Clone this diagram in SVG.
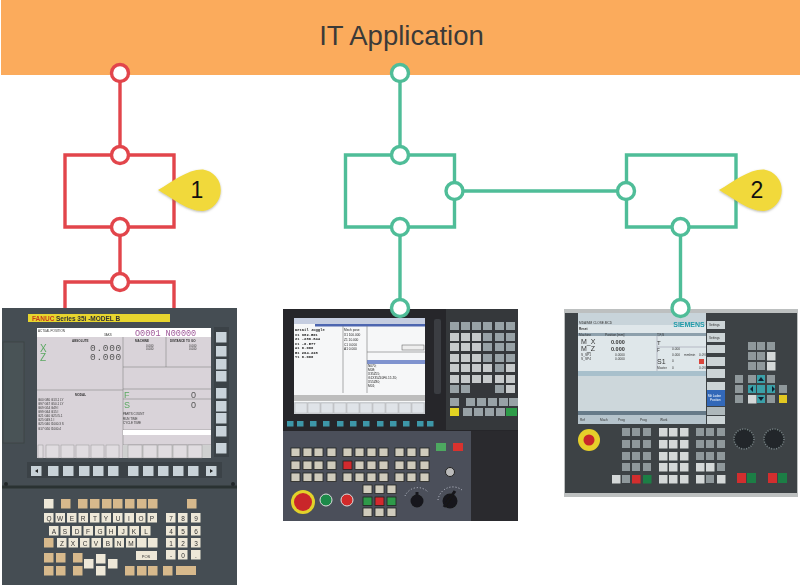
<svg xmlns="http://www.w3.org/2000/svg" width="800" height="586" viewBox="0 0 800 586">
<defs>
<style>
text{font-family:"Liberation Sans",Arial,sans-serif}
text.mono{font-family:"Liberation Mono","Courier New",monospace}
.r{fill:none;stroke:#e2454b;stroke-width:3.4}
.g{fill:none;stroke:#4fbd98;stroke-width:3.4}
.cr{fill:#fff;stroke:#e2454b;stroke-width:3.4}
.cg{fill:#fff;stroke:#4fbd98;stroke-width:3.4}
.tag{font-size:23px;fill:#111;text-anchor:middle}
.sk{fill:#c9d3da;width:10.5px;height:10.5px}
.fk{fill:#c8d2d8;width:10.5px;height:10px}
.k{fill:#eee8d8;width:9.5px;height:9.5px}
.t{fill:#d7b98c;width:9.5px;height:9.5px}
.lt{font-size:6.5px;fill:#333;text-anchor:middle}
.px{font-size:3px;fill:#333}
.m{fill:#c6cacb;width:9px;height:8px}
.d{fill:#98a2a6;width:9px;height:8px}
.ck{fill:#cfcbbc;stroke:#222;stroke-width:.8;width:9px;height:8.5px}
.tl{fill:#3c97a8;width:6.5px;height:5.5px}
.s{fill:#d4d8d8;width:8.5px;height:8.5px}
.sd{fill:#8f989b;width:8px;height:8px}
.sb{fill:#ccd4d6;width:18px;height:8px}
.teal{fill:#3aa0a8}
.gl{fill:#333;width:4px;height:4px}
</style>
<filter id="soft" x="0" y="0" width="100%" height="100%"><feGaussianBlur stdDeviation="0.4"/></filter>
<filter id="sh" x="-10%" y="-10%" width="120%" height="130%"><feDropShadow dx="0" dy="1" stdDeviation="0.8" flood-color="#776" flood-opacity=".5"/></filter>
</defs>
<rect width="800" height="586" fill="#fff"/>
<g id="it-application">
<rect x="1" y="0" width="799" height="75" fill="#fbab5c"/>
<text x="401.500" y="45" font-size="27.500" fill="#3b3a38" text-anchor="middle">IT Application</text>
</g>

<g id="fanuc-panel" filter="url(#soft)">
<rect x="2" y="308" width="235" height="277" fill="#454e52"/>
<rect x="2" y="485.500" width="235" height="3" fill="#2a3033"/>
<circle cx="6" cy="484" r="2" fill="#23282a"/><circle cx="233" cy="484" r="2" fill="#23282a"/>
<rect x="3" y="342" width="21" height="101" fill="#4a5357" stroke="#363d40" stroke-width=".6"/>
<rect x="28" y="314" width="142" height="8" fill="#e7d52e"/>
<text x="32" y="321" font-size="6.500" font-weight="bold" fill="#c8401e">FANUC</text>
<text x="56" y="321" font-size="6.500" font-weight="bold" fill="#333">Series 35i -MODEL B</text>
<rect x="37" y="328" width="174" height="130" fill="#d9d3d9"/>
<rect x="37" y="328" width="174" height="9" fill="#fff"/>
<g fill="none" stroke="#777" stroke-width=".5">
<path d="M37 390H123M123 337V458M123 367H211M166 337V367M123 389H211M123 399H211M123 430H211M123 445H211"/>
</g>
<text x="38" y="331.500" class="px">ACTUAL POSITION</text>
<text x="104" y="336" class="px">3AKS</text>
<text x="135" y="336" font-size="8.500" fill="#a05a9a" class="mono">O0001 N00000</text>
<text x="72" y="342" class="px" font-weight="bold">ABSOLUTE</text>
<text x="40" y="352" font-size="10" fill="#5aa860">X</text>
<text x="40" y="361" font-size="10" fill="#5aa860">Z</text>
<text x="122" y="351" font-size="9.500" fill="#555" text-anchor="end" class="mono" letter-spacing=".7">0.000</text>
<text x="122" y="360" font-size="9.500" fill="#555" text-anchor="end" class="mono" letter-spacing=".7">0.000</text>
<text x="135" y="342" class="px" font-weight="bold">MACHINE</text>
<text x="170" y="342" class="px" font-weight="bold">DISTANCE TO GO</text>
<text x="146" y="346.500" class="px">0.000</text><text x="146" y="350" class="px">0.000</text><text x="189" y="346.500" class="px">0.000</text><text x="189" y="350" class="px">0.000</text>
<text x="75" y="396" class="px" font-weight="bold">MODAL</text>
<text x="38" y="401" class="px">G00  G80  G13.1 LY</text>
<text x="38" y="405" class="px">G97  G67  G50.1 LY</text>
<text x="38" y="409" class="px">G69  G54  G49  I</text>
<text x="38" y="413" class="px">G99  G64  G15  I</text>
<text x="38" y="417" class="px">G21  G40  G25 I5.1</text>
<text x="38" y="421" class="px">G25  G49.1  I</text>
<text x="38" y="425" class="px">G25  G40  I1000.3 S</text>
<text x="38" y="430" class="px">G17  G50  I1000.4</text>
<text x="124" y="398" font-size="9" fill="#5aa860">F</text>
<text x="124" y="408" font-size="9" fill="#5aa860">S</text>
<text x="191" y="398" font-size="9" fill="#555">0</text>
<text x="191" y="408" font-size="9" fill="#555">0</text>
<text x="123" y="415" class="px">PARTS COUNT</text>
<text x="123" y="420" class="px">RUN TIME</text>
<text x="123" y="424" class="px">CYCLE TIME</text>
<rect x="123" y="430" width="88" height="5" fill="#fff"/>
<rect x="123" y="445" width="88" height="13" fill="#cfd0d0"/>
<g fill="#e0dce0" stroke="#888" stroke-width=".4">
<rect x="38" y="445" width="5" height="13"/><rect x="46" y="445" width="13" height="13"/><rect x="61" y="445" width="13" height="13"/><rect x="76" y="445" width="13" height="13"/><rect x="91" y="445" width="13" height="13"/><rect x="106" y="445" width="13" height="13"/>
<rect x="128" y="445" width="14" height="13"/><rect x="143" y="445" width="14" height="13"/><rect x="158" y="445" width="14" height="13"/><rect x="173" y="445" width="14" height="13"/><rect x="188" y="445" width="14" height="13"/>
</g>
<rect x="214" y="327" width="15" height="130" fill="#3a4246"/>
<rect x="216" y="332" class="sk"/><rect x="216" y="346" class="sk"/><rect x="216" y="359" class="sk"/><rect x="216" y="371" class="sk"/><rect x="216" y="388" class="sk"/><rect x="216" y="401" class="sk"/><rect x="216" y="413" class="sk"/><rect x="216" y="426" class="sk"/><rect x="216" y="443" class="sk"/>
<rect x="27" y="462" width="195" height="16" fill="#3a4246"/>
<rect x="31" y="466" class="fk"/><rect x="48" y="466" class="fk"/><rect x="63" y="466" class="fk"/><rect x="79" y="466" class="fk"/><rect x="93" y="466" class="fk"/><rect x="108" y="466" class="fk"/><rect x="128" y="466" class="fk"/><rect x="143" y="466" class="fk"/><rect x="158" y="466" class="fk"/><rect x="173" y="466" class="fk"/><rect x="188" y="466" class="fk"/><rect x="206" y="466" class="fk"/>
<path d="M38 469v4l-3-2zM210 469v4l3-2z" fill="#222"/>
<rect x="44" y="499" class="k"/><rect x="61" y="499" class="t"/><rect x="78" y="499" class="t"/><rect x="90" y="499" class="t"/><rect x="102" y="499" class="t"/><rect x="113" y="499" class="t"/><rect x="125" y="499" class="t"/><rect x="137" y="499" class="t"/><rect x="148" y="499" class="t"/><rect x="187" y="499" class="t"/>
<rect x="44" y="513" class="k"/><rect x="55.500" y="513" class="k"/><rect x="67" y="513" class="k"/><rect x="78.500" y="513" class="k"/><rect x="90" y="513" class="k"/><rect x="101.500" y="513" class="k"/><rect x="113" y="513" class="k"/><rect x="124.500" y="513" class="k"/><rect x="136" y="513" class="k"/><rect x="147.500" y="513" class="k"/>
<rect x="166" y="513" class="k"/><rect x="178" y="513" class="k"/><rect x="191" y="513" class="k"/>
<rect x="49" y="526" class="k"/><rect x="60.500" y="526" class="k"/><rect x="72" y="526" class="k"/><rect x="83.500" y="526" class="k"/><rect x="95" y="526" class="k"/><rect x="106.500" y="526" class="k"/><rect x="118" y="526" class="k"/><rect x="129.500" y="526" class="k"/><rect x="141" y="526" class="k"/>
<rect x="166" y="526" class="k"/><rect x="178" y="526" class="k"/><rect x="191" y="526" class="k"/>
<rect x="44" y="538" class="t"/><rect x="57" y="538" class="k"/><rect x="68.500" y="538" class="k"/><rect x="80" y="538" class="k"/><rect x="91.500" y="538" class="k"/><rect x="103" y="538" class="k"/><rect x="114.500" y="538" class="k"/><rect x="126" y="538" class="k"/><rect x="137" y="538" class="k"/><rect x="148" y="538" class="k"/>
<rect x="166" y="538" class="k"/><rect x="178" y="538" class="k"/><rect x="191" y="538" class="k"/>
<rect x="44" y="553" class="t"/><rect x="56" y="553" class="t"/><rect x="73" y="553" class="t"/><rect x="84" y="559" class="k"/><rect x="96" y="554" class="k"/><rect x="108" y="559" class="k"/>
<rect x="136" y="551" width="21" height="9" fill="#eee8d8"/>
<rect x="166" y="550" class="k"/><rect x="178" y="550" class="k"/><rect x="191" y="550" class="k"/>
<rect x="44" y="566" class="t"/><rect x="56" y="566" class="t"/><rect x="73" y="566" class="t"/><rect x="96" y="566" class="k"/><rect x="125" y="566" class="t"/><rect x="137" y="566" class="t"/><rect x="148" y="566" class="t"/><rect x="163" y="566" class="t"/>
<rect x="176" y="566" width="20" height="9" fill="#d7b98c"/>
<text x="49" y="521" class="lt">Q</text><text x="60" y="521" class="lt">W</text><text x="72" y="521" class="lt">E</text><text x="83" y="521" class="lt">R</text><text x="95" y="521" class="lt">T</text><text x="106" y="521" class="lt">Y</text><text x="118" y="521" class="lt">U</text><text x="129" y="521" class="lt">I</text><text x="141" y="521" class="lt">O</text><text x="152" y="521" class="lt">P</text>
<text x="171" y="521" class="lt">7</text><text x="183" y="521" class="lt">8</text><text x="196" y="521" class="lt">9</text>
<text x="54" y="534" class="lt">A</text><text x="65" y="534" class="lt">S</text><text x="77" y="534" class="lt">D</text><text x="88" y="534" class="lt">F</text><text x="100" y="534" class="lt">G</text><text x="111" y="534" class="lt">H</text><text x="123" y="534" class="lt">J</text><text x="134" y="534" class="lt">K</text><text x="146" y="534" class="lt">L</text>
<text x="171" y="534" class="lt">4</text><text x="183" y="534" class="lt">5</text><text x="196" y="534" class="lt">6</text>
<text x="62" y="546" class="lt">Z</text><text x="73" y="546" class="lt">X</text><text x="85" y="546" class="lt">C</text><text x="96" y="546" class="lt">V</text><text x="108" y="546" class="lt">B</text><text x="119" y="546" class="lt">N</text><text x="131" y="546" class="lt">M</text>
<text x="171" y="546" class="lt">1</text><text x="183" y="546" class="lt">2</text><text x="196" y="546" class="lt">3</text>
<text x="171" y="558" class="lt">-</text><text x="183" y="558" class="lt">0</text><text x="196" y="558" class="lt">.</text>
<text x="146" y="558" class="lt" style="font-size:4px">POS</text>
</g>

<g id="mitsubishi-panel" filter="url(#soft)">
<rect x="283" y="309" width="235" height="212" fill="#26282c"/>
<rect x="446" y="309" width="72" height="121" fill="#34373b"/>
<rect x="283" y="431" width="188" height="90" fill="#4b505a"/>
<rect x="471" y="431" width="47" height="90" fill="#2a2b2f"/>
<rect x="294" y="318" width="131" height="96" fill="#f6f7f8"/>
<rect x="294" y="318" width="131" height="6" fill="#c5cde0"/>
<rect x="315" y="324" width="110" height="2.500" fill="#4e66b0"/>
<rect x="294" y="395" width="131" height="6" fill="#bdbdbd"/>
<rect x="294" y="402" width="131" height="12" fill="#cfd3d8"/>
<rect x="367" y="360" width="58" height="4" fill="#7f93cf"/>
<path d="M343 326V393M367 326V393M367 352H425" stroke="#777" stroke-width=".6" fill="none"/>
<text class="mono" x="295" y="331" font-size="3.800" font-weight="bold" fill="#222">Detail</text><text class="mono" x="311" y="331" font-size="3.800" font-weight="bold" fill="#222">Joggle</text>
<text class="mono" x="295" y="335.500" font-size="3.800" font-weight="bold" fill="#222">X1   982.501</text>
<text class="mono" x="295" y="340" font-size="3.800" font-weight="bold" fill="#222">Z1  -286.844</text>
<text class="mono" x="295" y="344.500" font-size="3.800" font-weight="bold" fill="#222">C1    -0.577</text>
<text class="mono" x="295" y="349" font-size="3.800" font-weight="bold" fill="#222">A1     0.000</text>
<text class="mono" x="295" y="353.500" font-size="3.800" font-weight="bold" fill="#222">B1   264.228</text>
<text class="mono" x="295" y="358" font-size="3.800" font-weight="bold" fill="#222">Y1     0.000</text>
<g font-size="3.200" fill="#222">
<text x="344" y="331">Mech pose</text><text x="344" y="336">X1   100.000</text><text x="344" y="341">Z1    10.000</text><text x="344" y="346">C1     0.000</text><text x="344" y="350">A1     0.000</text>
<text x="368" y="367">N070;</text><text x="368" y="371">M08;</text><text x="368" y="375">X35Z55;</text><text x="368" y="379">G1X35Z40F0.15 Z0;</text><text x="368" y="383">X55Z80;</text><text x="368" y="387">M01;</text>
</g>
<rect x="402" y="345" width="22" height="5" fill="#eee" stroke="#555" stroke-width=".5"/>
<g fill="#dfe3e8" stroke="#aaa" stroke-width=".4">
<rect x="295" y="403" width="12" height="10"/><rect x="308" y="403" width="12" height="10"/><rect x="321" y="403" width="12" height="10"/><rect x="334" y="403" width="12" height="10"/><rect x="347" y="403" width="12" height="10"/><rect x="360" y="403" width="12" height="10"/><rect x="373" y="403" width="12" height="10"/><rect x="386" y="403" width="12" height="10"/><rect x="399" y="403" width="12" height="10"/><rect x="412" y="403" width="12" height="10"/>
</g>
<rect x="434" y="319" width="7" height="75" rx="2" fill="#3a3d42"/>
<rect x="287" y="421" class="tl"/><rect x="297" y="421" class="tl"/><rect x="310" y="421" class="tl"/><rect x="323" y="421" class="tl"/><rect x="337" y="421" class="tl"/><rect x="350" y="421" class="tl"/><rect x="363" y="421" class="tl"/><rect x="377" y="421" class="tl"/><rect x="390" y="421" class="tl"/><rect x="403" y="421" class="tl"/><rect x="417" y="421" class="tl"/><rect x="427" y="421" class="tl"/>
<rect x="450" y="322" class="d"/><rect x="461" y="322" class="d"/><rect x="472" y="322" class="d"/><rect x="483" y="322" class="d"/><rect x="495" y="322" class="d"/><rect x="506" y="322" class="d"/>
<rect x="450" y="333" class="m"/><rect x="461" y="333" class="m"/><rect x="472" y="333" class="m"/><rect x="483" y="333" class="d"/><rect x="495" y="333" class="d"/><rect x="506" y="333" class="d"/>
<rect x="450" y="343" class="m"/><rect x="461" y="343" class="m"/><rect x="472" y="343" class="m"/><rect x="483" y="343" class="d"/><rect x="495" y="343" class="d"/><rect x="506" y="343" class="d"/>
<rect x="450" y="354" class="m"/><rect x="461" y="354" class="m"/><rect x="472" y="354" class="m"/><rect x="483" y="354" class="d"/><rect x="495" y="354" class="d"/><rect x="506" y="354" class="d"/>
<rect x="450" y="364" class="m"/><rect x="461" y="364" class="m"/><rect x="472" y="364" class="m"/><rect x="483" y="364" class="m"/><rect x="495" y="364" class="d"/><rect x="506" y="364" class="m"/>
<rect x="450" y="375" class="m"/><rect x="461" y="375" class="m"/><rect x="472" y="375" class="m"/><rect x="483" y="375" class="m"/><rect x="495" y="375" class="m"/><rect x="506" y="375" class="m"/>
<rect x="450" y="385" class="d"/><rect x="461" y="385" class="d"/><rect x="495" y="385" class="d"/><rect x="506" y="385" class="m"/>
<rect x="450" y="398" class="d"/><rect x="466" y="398" class="d"/><rect x="477" y="398" class="d"/><rect x="488" y="398" class="d"/><rect x="499" y="398" class="d"/><rect x="509" y="398" class="d"/>
<rect x="450" y="408" class="m" style="fill:#e2d323"/><rect x="463" y="408" class="d"/><rect x="474" y="408" class="d"/><rect x="485" y="408" class="d"/><rect x="496" y="408" class="d"/><rect x="506" y="408" class="m" style="fill:#2e9c48;width:11px"/>
<rect x="291" y="448" class="ck"/><rect x="303" y="448" class="ck"/><rect x="314" y="448" class="ck"/><rect x="327" y="448" class="ck"/><rect x="343" y="448" class="ck"/><rect x="355" y="448" class="ck"/><rect x="367" y="448" class="ck"/><rect x="379" y="448" class="ck"/><rect x="395" y="448" class="ck"/><rect x="407" y="448" class="ck"/><rect x="420" y="448" class="ck"/>
<rect x="291" y="461" class="ck"/><rect x="303" y="461" class="ck"/><rect x="314" y="461" class="ck"/><rect x="327" y="461" class="ck"/><rect x="343" y="461" class="ck" style="fill:#d32a2e"/><rect x="355" y="461" class="ck"/><rect x="367" y="461" class="ck"/><rect x="379" y="461" class="ck"/><rect x="395" y="461" class="ck"/><rect x="407" y="461" class="ck"/><rect x="420" y="461" class="ck"/>
<rect x="291" y="473" class="ck"/><rect x="303" y="473" class="ck"/><rect x="314" y="473" class="ck"/><rect x="327" y="473" class="ck"/><rect x="343" y="473" class="ck"/><rect x="355" y="473" class="ck"/><rect x="367" y="473" class="ck"/><rect x="379" y="473" class="ck"/><rect x="395" y="473" class="ck"/><rect x="407" y="473" class="ck"/><rect x="420" y="473" class="ck"/>
<rect x="363" y="485" class="ck"/><rect x="375" y="485" class="ck"/><rect x="387" y="485" class="ck"/>
<rect x="363" y="497" class="ck" style="fill:#2d9a4a"/><rect x="375" y="497" class="ck" style="fill:#d32a2e"/><rect x="387" y="497" class="ck" style="fill:#2d9a4a"/>
<rect x="363" y="508" class="ck"/><rect x="375" y="508" class="ck"/><rect x="387" y="508" class="ck"/>
<rect x="436" y="443" width="10" height="8" fill="#4ea860"/>
<rect x="453" y="443" width="10" height="8" fill="#d9322f"/>
<circle cx="303" cy="502" r="12" fill="#e3d22c"/><circle cx="303" cy="502" r="9" fill="#c9272a"/>
<circle cx="326" cy="500" r="6" fill="#1f8a4a" stroke="#ddd" stroke-width="1"/>
<circle cx="347" cy="500" r="6" fill="#d22b2b" stroke="#ddd" stroke-width="1"/>
<circle cx="417" cy="501" r="6.500" fill="#17181a"/><rect x="415.500" y="492" width="3" height="10" fill="#17181a"/>
<circle cx="450" cy="501" r="7.500" fill="#17181a"/><path d="M444 507L455 491" stroke="#17181a" stroke-width="3"/>
<circle cx="450" cy="472" r="4.500" fill="#bbb" stroke="#222"/>
<path d="M405 496A14 14 0 0 1 428 492M438 500A15 15 0 0 1 462 490" fill="none" stroke="#dde" stroke-width=".8" stroke-dasharray="1 2"/>
</g>

<g id="siemens-panel" filter="url(#soft)">
<rect x="564" y="309" width="234" height="188" fill="#bdc0c0"/>
<rect x="565" y="313" width="232" height="180" fill="#3d4245"/>
<rect x="578" y="313" width="128" height="111" fill="#dfe7ea"/>
<rect x="578" y="313" width="128" height="12" fill="#c8d4da"/>
<rect x="578" y="333" width="128" height="3" fill="#8da0ac"/>
<rect x="578" y="371" width="128" height="5" fill="#a8c0cc"/>
<rect x="578" y="376" width="128" height="35" fill="#cdd7db"/>
<rect x="578" y="411" width="128" height="4" fill="#667a88"/>
<rect x="578" y="415" width="128" height="9" fill="#b5c3cb"/>
<rect x="707" y="321" class="sb"/><rect x="707" y="333" class="sb" style="height:9px"/><rect x="707" y="345" class="sb"/><rect x="707" y="357" class="sb" style="height:9px"/><rect x="707" y="369" class="sb" style="height:9px"/><rect x="707" y="382" class="sb"/>
<rect x="707" y="390" class="sb" style="fill:#3168b8;height:16px"/><rect x="707" y="407" class="sb" style="fill:#aeb8bb"/>
<rect x="707" y="416" class="sb"/>
<text x="689" y="327" font-size="7" font-weight="bold" fill="#1f9aa8" text-anchor="middle">SIEMENS</text>
<g fill="#333" font-size="3.200">
<text x="579" y="324">MDA/MM CLOSE.MCD</text><text x="579" y="330" font-weight="bold">Reset</text><text x="579" y="335.500">Machine</text><text x="605" y="335.500">Position [mm]</text><text x="657" y="335.500">T,F,S</text>
<text x="581" y="344" font-size="7">M_X</text><text x="581" y="351" font-size="7">M_Z</text>
<text x="611" y="344" font-size="5.500" font-weight="bold">0.000</text><text x="611" y="351" font-size="5.500" font-weight="bold">0.000</text>
<text x="581" y="356">S_SP1</text><text x="581" y="360">S_SP4</text><text x="615" y="356">0.0000</text><text x="615" y="360">0.0000</text>
<text x="657" y="345" font-size="6">T</text><text x="657" y="352" font-size="4.500">F</text>
<text x="657" y="364" font-size="7">S1</text>
<text x="672" y="350">0.000</text><text x="672" y="356">0.000</text><text x="684" y="356">mm/min</text><text x="699" y="356">0.0%</text><text x="672" y="362">0</text><text x="657" y="369">Master</text><text x="672" y="369">0</text><text x="699" y="369">0.0%</text>
<text x="580" y="421">Ref</text><text x="600" y="421">Mach</text><text x="618" y="421">Prog</text><text x="640" y="421">Prog</text><text x="660" y="421">Work</text>
<text x="709" y="326" font-size="3">Settings</text><text x="709" y="338.500" font-size="3">Settings</text><text x="708" y="397" fill="#fff" font-size="3">Mit Laden</text><text x="710" y="401" fill="#fff" font-size="3">Position</text>
</g>
<rect x="699" y="359" width="5" height="5" fill="#d9453a"/>
<path d="M657 336V371M657 347H706" stroke="#778" stroke-width=".4" fill="none"/>
<rect x="622" y="428" class="sd"/><rect x="632" y="428" class="sd"/><rect x="643" y="428" class="sd"/>
<rect x="622" y="440" class="sd"/><rect x="632" y="440" class="sd"/><rect x="643" y="440" class="sd"/>
<rect x="622" y="452" class="sd"/><rect x="632" y="452" class="sd"/><rect x="643" y="452" class="sd"/>
<rect x="622" y="463" class="sd"/><rect x="632" y="463" class="sd"/><rect x="643" y="463" class="sd"/>
<rect x="612" y="475" class="s"/><rect x="622" y="475" class="sd"/><rect x="632" y="475" class="s" style="fill:#d22e2e"/><rect x="643" y="475" class="s" style="fill:#1e7e44"/>
<rect x="659" y="428" class="s"/><rect x="669" y="428" class="s"/><rect x="680" y="428" class="s"/>
<rect x="659" y="440" class="s"/><rect x="669" y="440" class="s"/><rect x="680" y="440" class="s"/>
<rect x="659" y="452" class="s"/><rect x="669" y="452" class="s"/><rect x="680" y="452" class="s"/>
<rect x="659" y="463" class="s"/><rect x="669" y="463" class="s"/><rect x="680" y="463" class="s"/>
<rect x="659" y="475" class="s"/><rect x="669" y="475" class="s"/><rect x="680" y="475" class="s"/>
<rect x="696" y="428" class="sd"/><rect x="706" y="428" class="sd"/><rect x="717" y="428" class="sd"/>
<rect x="696" y="440" class="sd"/><rect x="706" y="440" class="sd"/><rect x="717" y="440" class="sd"/>
<rect x="696" y="452" class="sd"/><rect x="706" y="452" class="sd"/><rect x="717" y="452" class="sd"/>
<rect x="696" y="463" class="s"/><rect x="706" y="463" class="s"/><rect x="717" y="463" class="sd"/>
<rect x="696" y="475" class="s"/><rect x="706" y="475" class="sd"/><rect x="717" y="475" class="s"/>
<rect x="748" y="342" class="sd"/><rect x="757" y="342" class="sd"/><rect x="767" y="342" class="sd"/>
<rect x="748" y="352" class="sd"/><rect x="757" y="352" class="sd"/><rect x="767" y="352" class="s"/>
<rect x="748" y="362" class="sd"/><rect x="757" y="362" class="sd"/><rect x="767" y="362" class="s"/>
<rect x="735" y="375" class="sd"/><rect x="748" y="375" class="sd"/><rect x="757" y="375" class="sd teal"/><rect x="767" y="375" class="sd"/>
<rect x="735" y="385" class="sd"/><rect x="748" y="385" class="sd teal"/><rect x="757" y="385" class="sd teal"/><rect x="767" y="385" class="sd teal"/><rect x="779" y="385" class="sd"/>
<rect x="735" y="395" class="sd"/><rect x="748" y="395" class="s"/><rect x="757" y="395" class="sd teal"/><rect x="767" y="395" class="sd"/><rect x="779" y="395" class="sd" style="fill:#e3c922"/>
<rect x="737" y="473" width="9" height="10" fill="#d22e2e"/><rect x="747" y="473" width="9" height="10" fill="#1e7e44"/><rect x="768" y="473" width="9" height="10" fill="#d22e2e"/><rect x="778" y="473" width="9" height="10" fill="#1e7e44"/>
<path d="M761 377L758 381H764zM761 401L758 397H764zM750 389L753 386V392zM775 389L772 386V392z" fill="#123"/>
<circle cx="589" cy="440" r="11" fill="#e6cf2b"/><circle cx="589" cy="440" r="5.500" fill="#c8272b"/>
<circle cx="744" cy="439" r="10" fill="#22282a" stroke="#7a8488" stroke-width="1.500" stroke-dasharray="1 1.500"/>
<circle cx="774" cy="439" r="10" fill="#22282a" stroke="#7a8488" stroke-width="1.500" stroke-dasharray="1 1.500"/>
</g>

<g id="connectors">
<path class="r" d="M120 73V155M65 155H174V227H65ZM120 227V282M65 308V282H174V308"/>
<path class="g" d="M400 73V155M345.500 155H454.500V227H345.500ZM400 227V308M454.500 191H626M626.500 155H736V227H626.500ZM680.500 227V308"/>
</g>
<g id="port-red-1"><circle class="cr" cx="120" cy="73" r="8.500"/></g>
<g id="port-red-2"><circle class="cr" cx="120" cy="155" r="8.500"/></g>
<g id="port-red-3"><circle class="cr" cx="120" cy="227" r="8.500"/></g>
<g id="port-red-4"><circle class="cr" cx="120" cy="282" r="8.500"/></g>
<g id="port-green-1"><circle class="cg" cx="400" cy="73" r="8.500"/></g>
<g id="port-green-2"><circle class="cg" cx="400" cy="155" r="8.500"/></g>
<g id="port-green-3"><circle class="cg" cx="400" cy="227" r="8.500"/></g>
<g id="port-green-4"><circle class="cg" cx="400" cy="308" r="8.500"/></g>
<g id="port-green-5"><circle class="cg" cx="454.500" cy="191" r="8.500"/></g>
<g id="port-green-6"><circle class="cg" cx="626" cy="191" r="8.500"/></g>
<g id="port-green-7"><circle class="cg" cx="680.500" cy="227" r="8.500"/></g>
<g id="port-green-8"><circle class="cg" cx="680.500" cy="308" r="8.500"/></g>
<g id="callout-1">
<path d="M158 190C172 182 188 169 203 169.500A21 21 0 0 1 203 211C188 211.500 172 198 158 190Z" fill="#f1d93b" filter="url(#sh)"/>
<text class="tag" x="197" y="198">1</text>
</g>
<g id="callout-2">
<path d="M719 190C733 182 749 169 764 169.500A21 21 0 0 1 764 211C749 211.500 733 198 719 190Z" fill="#f1d93b" filter="url(#sh)"/>
<text class="tag" x="757" y="198">2</text>
</g>
</svg>
